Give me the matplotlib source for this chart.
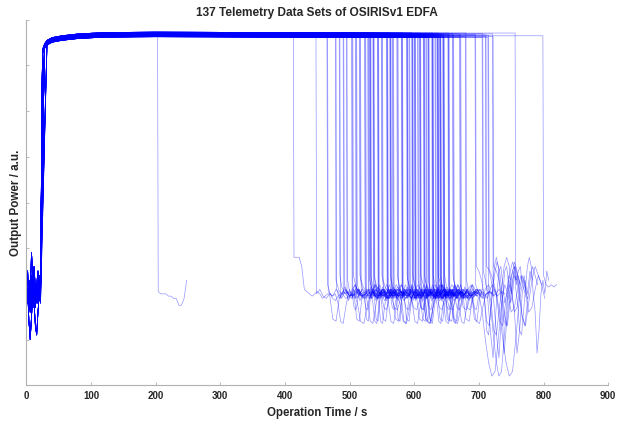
import matplotlib
matplotlib.use('Agg')
import matplotlib.pyplot as plt

plt.rcParams['font.family'] = ['Liberation Sans', 'DejaVu Sans']

# times (s) where each of the 137 runs drops off the plateau
drop_times = [203,
              413, 448, 465, 466, 478, 479, 484, 485, 490, 491, 495, 496,
              504, 505, 503, 510, 511, 509, 516, 517, 515, 524, 525, 523,
              529, 530, 528, 532, 533, 531, 532, 537, 538, 536, 537,
              544, 545, 543, 544, 550, 551, 549, 558, 559, 557, 558,
              563, 564, 562, 563, 567, 568, 566, 574, 575, 573,
              581, 582, 580, 581, 589, 590, 588, 589, 592, 593,
              597, 598, 596, 597, 601, 602, 600, 601, 605, 606,
              609, 610, 608, 609, 615, 616, 614, 615, 618, 619,
              622, 623, 621, 622, 628, 629, 627, 628, 629, 632, 633,
              636, 637, 635, 636, 637, 640, 641, 639, 640, 641,
              645, 646, 644, 645, 646, 653, 654, 652, 653,
              660, 661, 659, 671, 672, 670, 679, 680,
              694, 695, 705, 706, 710, 711, 714, 715, 721, 722, 756, 799]

rise_times = [24, 25, 26, 25, 27, 24, 28, 26, 32, 25, 29, 23, 26]
plateau_shift = [0.0, 0.03, -0.03, 0.05, -0.01, 0.015, -0.045, 0.035, -0.02, 0.01, -0.05]

# start-up noise, sampled every 2 s from 0 to 22 s
noise_t = [0, 2, 4, 6, 8, 10, 12, 14, 16, 18, 20, 22]
noise_0 = [2.0, 1.8, 2.3, 2.1, 1.9, 2.4, 2.0, 1.7, 2.2, 2.0, 1.9, 2.1]
noise_1 = [2.2, 2.5, 1.9, 2.0, 1.6, 2.1, 2.3, 2.0, 1.8, 2.2, 2.4, 2.0]
noise_2 = [1.9, 2.1, 1.4, 1.0, 1.5, 2.0, 2.2, 1.9, 2.1, 1.8, 2.0, 2.3]
noise_3 = [2.6, 2.3, 2.0, 2.1, 2.4, 1.9, 1.7, 2.0, 2.2, 2.5, 2.0, 1.8]
noise_4 = [2.1, 2.0, 1.9, 2.2, 2.0, 2.1, 1.8, 1.3, 1.1, 1.6, 2.0, 2.2]
noise_5 = [1.8, 2.0, 2.2, 2.0, 2.9, 2.4, 2.0, 1.9, 2.0, 2.1, 1.9, 2.0]
noise_6 = [2.3, 1.9, 2.0, 1.6, 2.0, 2.2, 2.6, 2.1, 1.9, 1.8, 2.1, 2.4]
noises = [noise_0, noise_1, noise_2, noise_3, noise_4, noise_5, noise_6]

# plateau (saturated output)
plateau_t = [25, 28, 32, 40, 55, 80, 120, 200, 400, 600, 800, 830]
plateau_y = [7.3, 7.42, 7.5, 7.56, 7.6, 7.64, 7.67, 7.68, 7.67, 7.66, 7.64, 7.63]

# tails after the drop
tail_steps = [3, 4, 5, 4, 3, 5, 4, 3]
calm_0 = [2.4, 2.15, 2.05, 2.0, 2.05, 1.95, 2.0, 2.1, 2.0, 1.9, 2.0, 2.05]
calm_1 = [2.2, 2.0, 1.95, 2.0, 1.8, 1.4, 1.35, 1.7, 2.0, 2.05, 1.95, 2.0, 2.1, 2.0]
calm_2 = [2.1, 1.9, 2.0, 2.1, 2.05, 1.95, 2.0, 2.2, 2.1, 2.0]
calm_3 = [2.0, 2.1, 1.95, 1.9, 2.0, 1.45, 1.4, 1.9, 2.05, 2.0, 1.9, 2.1, 2.2, 2.0, 1.95]
calm_4 = [2.3, 2.05, 2.0, 1.9, 1.95, 2.0, 2.1, 1.95, 2.0]
calm_5 = [1.9, 2.0, 2.15, 2.05, 1.85, 1.95, 2.0, 1.7, 1.65, 1.9, 2.0, 2.1]
calm_6 = [2.05, 2.0, 1.95, 2.0, 2.1, 2.05, 1.95, 1.9, 2.0, 2.05, 2.0, 2.1, 1.95, 2.0, 2.05, 2.0]
calm_tails = [calm_0, calm_1, calm_2, calm_3, calm_4, calm_5, calm_6]

wild_0 = [2.5, 2.3, 2.0, 1.5, 1.0, 0.6, 1.3, 2.0, 2.5, 2.6, 2.2, 1.8, 2.0, 2.4, 2.3, 2.5, 2.6, 2.2, 2.4, 2.1]
wild_1 = [2.2, 2.0, 1.6, 1.0, 0.5, 0.2, 0.3, 1.0, 1.8, 2.2, 2.0, 1.6, 1.7, 2.1, 2.4, 2.2, 1.9]
wild_2 = [2.6, 2.5, 2.3, 2.0, 1.4, 1.3, 1.9, 2.4, 2.7, 2.5, 2.0, 1.5, 1.3, 1.8, 2.3, 2.6, 2.4, 2.2]
wild_3 = [2.1, 1.8, 1.2, 1.1, 1.6, 2.1, 2.6, 2.8, 2.6, 2.0, 1.6, 0.7, 1.2, 2.0, 2.3, 2.0, 2.5, 2.3]
wild_tails = [wild_0, wild_1, wild_2, wild_3]

# individual runs that stand out
tail_203 = [2.05, 2.0, 2.0, 2.0, 1.95, 1.95, 1.9, 1.9, 1.75, 1.75, 1.9, 2.3]
tail_413 = [2.8, 2.8, 2.8, 2.6, 2.1, 2.05, 2.0, 1.95, 2.0, 2.05,
            2.0, 1.9, 1.95, 2.0, 2.0, 1.9, 1.85, 1.95, 2.0, 2.0]
tail_799 = [2.4, 2.2, 2.15, 2.2, 2.15, 2.2]
special_tails = {203: tail_203, 413: tail_413, 799: tail_799}

fig = plt.figure(figsize=(6.27, 4.21), dpi=100)
ax = fig.add_axes([0.042, 0.085, 0.928, 0.868])

for i, td in enumerate(drop_times):
    noise = noises[(i * 3) % len(noises)]
    tr = rise_times[i % len(rise_times)]
    dy = plateau_shift[i % len(plateau_shift)]
    step = tail_steps[i % len(tail_steps)]
    if td in special_tails:
        tail = special_tails[td]
        step = 4
    elif td >= 690:
        tail = wild_tails[i % len(wild_tails)]
    else:
        tail = calm_tails[(i * 5) % len(calm_tails)]

    x = list(noise_t)
    y = list(noise)
    last = plateau_y[0] + dy
    for pt, py in zip(plateau_t, plateau_y):
        if pt < tr:
            continue
        if pt >= td:
            break
        x.append(pt)
        y.append(py + dy)
        last = py + dy
    x.append(td)
    y.append(last)
    for k, v in enumerate(tail):
        x.append(td + 1 + k * step)
        y.append(v)
    ax.plot(x, y, color='blue', lw=0.5, alpha=0.42)

ax.set_xlim(0, 900)
ax.set_ylim(0, 8)
ax.set_xticks(range(0, 901, 100))
ax.set_yticks(range(0, 9))
ax.set_yticklabels([])
for s in ['top', 'right']:
    ax.spines[s].set_visible(False)
for s in ['left', 'bottom']:
    ax.spines[s].set_color('#b0b0b0')
    ax.spines[s].set_linewidth(0.8)
ax.tick_params(direction='in', length=2.5, width=0.6, color='#b0b0b0',
               labelsize=7, labelcolor='#262626', pad=4.5)
for lab in ax.get_xticklabels():
    lab.set_fontweight('bold')

ax.set_title('137 Telemetry Data Sets of OSIRISv1 EDFA', fontsize=8.6,
             fontweight='bold', color='#262626', pad=3)
ax.set_xlabel('Operation Time / s', fontsize=8.3, fontweight='bold', color='#262626', labelpad=4)
ax.set_ylabel('Output Power / a.u.', fontsize=8.4, fontweight='bold', color='#262626')
ax.yaxis.set_label_coords(-0.008, 0.5)

fig.savefig('out.png', dpi=100, facecolor='white')
